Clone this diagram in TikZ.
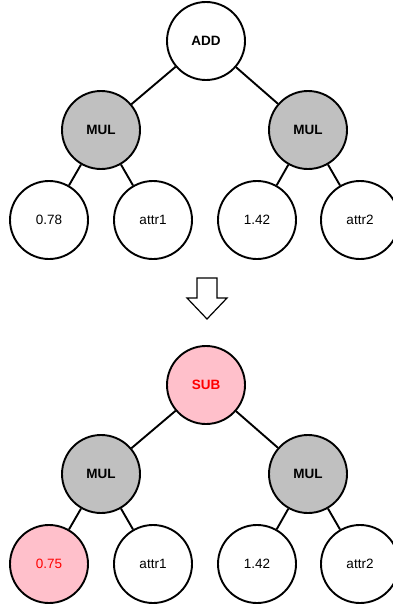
\documentclass[tikz,border=0pt]{standalone}
\usepackage{fontspec}
\setmainfont{Liberation Sans}
\definecolor{grayfill}{HTML}{C0C0C0}
\definecolor{pinkfill}{HTML}{FFC0CB}
\definecolor{redtext}{HTML}{FF0000}
\begin{document}
\begin{tikzpicture}[x=1pt,y=-1pt,
  tn/.style={circle,draw=black,line width=1.9pt,minimum size=78pt,inner sep=0pt,fill=white,font=\fontsize{13.5}{15}\selectfont},
  opn/.style={tn,font=\fontsize{13.5}{15}\selectfont\bfseries},
  grayn/.style={fill=grayfill},
  pinkn/.style={fill=pinkfill,text=redtext},
  edge/.style={line width=1.9pt,draw=black}]
\useasboundingbox (0,0) rectangle (392,610);
% top tree
\node[opn] (add) at (206,41) {ADD};
\node[opn,grayn] (m1) at (101,130) {MUL};
\node[opn,grayn] (m2) at (308,130) {MUL};
\node[tn] (l1) at (49,220) {0.78};
\node[tn] (l2) at (153,220) {attr1};
\node[tn] (l3) at (257,220) {1.42};
\node[tn] (l4) at (360,220) {attr2};
\draw[edge] (add) -- (m1);
\draw[edge] (add) -- (m2);
\draw[edge] (m1) -- (l1);
\draw[edge] (m1) -- (l2);
\draw[edge] (m2) -- (l3);
\draw[edge] (m2) -- (l4);
% arrow
\draw[line width=1.2pt,fill=white] (197,278) -- (217,278) -- (217,298) -- (227,298) -- (207,319) -- (187,298) -- (197,298) -- cycle;
% bottom tree
\node[opn,pinkn] (sub) at (206,385) {SUB};
\node[opn,grayn] (m3) at (101,474) {MUL};
\node[opn,grayn] (m4) at (308,474) {MUL};
\node[tn,pinkn] (l5) at (49,564) {0.75};
\node[tn] (l6) at (153,564) {attr1};
\node[tn] (l7) at (257,564) {1.42};
\node[tn] (l8) at (360,564) {attr2};
\draw[edge] (sub) -- (m3);
\draw[edge] (sub) -- (m4);
\draw[edge] (m3) -- (l5);
\draw[edge] (m3) -- (l6);
\draw[edge] (m4) -- (l7);
\draw[edge] (m4) -- (l8);
\end{tikzpicture}
\end{document}
